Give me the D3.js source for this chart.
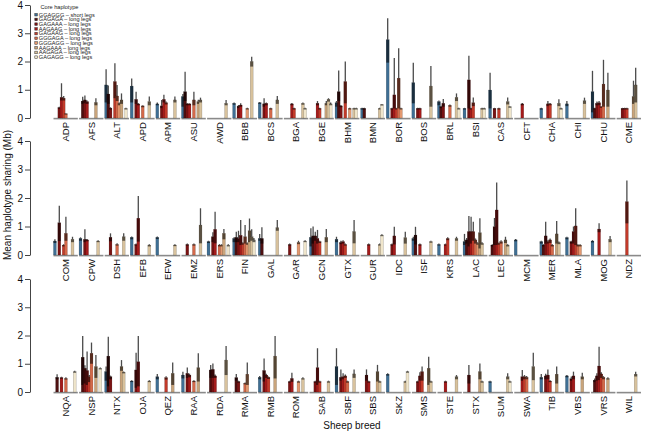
<!DOCTYPE html>
<html><head><meta charset="utf-8">
<script src="https://cdn.jsdelivr.net/npm/d3@7"></script>
<style>body{margin:0;background:#fff}svg{display:block;font-family:"Liberation Sans",Arial,Helvetica,sans-serif}</style>
</head><body><svg id="c" width="663" height="433"></svg>
<script>
const haplotypes = ["GGAGGG","GAGAGA","GAGAAA","AAGAAG","GAGAAG","GGGAGA","GGGAGG","AAGAAA","AAGAGA","GAGAGG"];
const legTypes = ["short legs","long legs","long legs","long legs","long legs","long legs","long legs","long legs","long legs","long legs"];
const colors = ["#3f6f94","#4e1010","#7a1313","#a41b1b","#c23a2a","#d4694a","#e3986f","#c9a47b","#d8c29d","#efe5cb"];
const yTicks = [0,1,2,3,4];

const breeds1 = ["ADP","AFS","ALT","APD","APM","ASU","AWD","BBB","BCS","BGA","BGE","BHM","BMN","BOR","BOS","BRL","BSI","CAS","CFT","CHA","CHI","CHU","CME"];
const breeds2 = ["COM","CPW","DSH","EFB","EFW","EMZ","ERS","FIN","GAL","GAR","GCN","GTX","GUR","IDC","ISF","KRS","LAC","LEC","MCM","MER","MLA","MOG","NDZ"];
const breeds3 = ["NQA","NSP","NTX","OJA","QEZ","RAA","RDA","RMA","RMB","ROM","SAB","SBF","SBS","SKZ","SMS","STE","STX","SUM","SWA","TIB","VBS","VRS","WIL"];

// each bar: [haplotype index, mean, lower edge of dark band, top of error line]
const bars1 = [
 [[2,.37,.33,.40],[3,.73,.62,1.23],[4,.70,.62,.78],[5,.15,.12,.17]],
 [[1,.60,.50,.75],[2,.64,.52,.80],[3,.58,.50,.62],[7,.55,.45,.70]],
 [[0,1.17,.55,1.73],[1,.85,.50,1.15],[2,.35,.30,.38],[4,1.29,.70,1.94],[5,.78,.60,1.17],[6,.52,.45,.55],[7,.64,.50,.87],[9,.34,.30,.36]],
 [[0,1.13,.55,1.40],[2,.66,.50,.93],[3,.50,.45,.52],[5,.43,.38,.45],[8,.58,.45,.76]],
 [[0,.50,.45,.55],[2,.43,.35,.64],[3,.66,.55,.82],[4,.54,.48,.58],[8,.64,.55,.76]],
 [[0,.76,.40,.85],[1,.93,.60,1.64],[2,.50,.45,.52],[3,.50,.45,.52],[5,.64,.45,.93],[7,.58,.50,.65],[8,.64,.55,.72]],
 [[8,.52,.45,.64]],
 [[0,.52,.47,.55],[2,.42,.35,.46],[3,.46,.40,.52],[6,.34,.30,.36],[8,2.00,1.82,2.17]],
 [[0,.54,.50,.57],[2,.50,.40,.70],[3,.52,.45,.55],[5,.34,.30,.36],[8,.64,.50,.78]],
 [[3,.50,.45,.53],[4,.34,.30,.36],[8,.52,.47,.55],[9,.34,.30,.36]],
 [[3,.52,.45,.60],[4,.34,.30,.36],[7,.52,.45,.60],[8,.66,.58,.70],[9,.50,.45,.55]],
 [[0,.54,.40,.60],[1,.93,.60,1.68],[2,.43,.38,.46],[4,1.29,.52,2.00],[6,.34,.30,.36],[8,.34,.30,.36],[9,.34,.30,.36]],
 [[0,.34,.30,.36],[1,.34,.30,.36],[8,.34,.30,.36],[9,.48,.44,.50]],
 [[0,2.77,1.96,3.53],[2,.34,.30,.36],[3,.82,.34,2.12],[4,.34,.30,.36],[5,1.41,.34,2.47],[6,.34,.30,.36]],
 [[0,1.25,.52,1.96],[2,.34,.30,.36],[3,.34,.30,.36],[8,1.13,.40,1.84]],
 [[0,.58,.45,.62],[1,.40,.35,.43],[2,.52,.40,.67],[5,.45,.40,.48],[8,.73,.60,.87],[9,.34,.30,.36]],
 [[0,.34,.30,.36],[2,1.35,.34,2.20],[3,.34,.30,.36],[4,.54,.42,.73],[8,.34,.30,.36],[9,.34,.30,.36]],
 [[0,.99,.34,1.60],[2,.34,.30,.36],[4,.34,.30,.36],[8,.58,.48,.73],[9,.40,.36,.42]],
 [[3,.50,.45,.53]],
 [[0,.34,.30,.36],[3,.50,.42,.60],[4,.50,.45,.53],[8,.52,.42,.66],[9,.34,.30,.36]],
 [[0,.50,.42,.60],[8,.61,.50,.72]],
 [[0,.93,.20,1.67],[1,.34,.30,.36],[2,.52,.45,.58],[3,.54,.45,.60],[4,.40,.36,.42],[5,1.20,.40,2.06],[7,.99,.40,1.60]],
 [[2,.34,.30,.36],[3,.34,.30,.36],[4,.34,.30,.36],[7,.76,.50,1.32],[8,1.17,.55,1.78]]
];
const bars2 = [
 [[0,.49,.42,.55],[2,1.13,.49,1.73],[4,.35,.30,.38],[5,.76,.50,1.34],[8,.55,.45,.64]],
 [[0,.58,.50,.62],[2,.55,.45,.90],[3,.53,.48,.56],[8,.49,.45,.52]],
 [[2,.62,.48,.76],[5,.37,.33,.41],[8,.64,.50,.76]],
 [[0,.62,.55,.65],[2,.37,.33,.40],[3,1.29,.47,2.07],[8,.35,.30,.38]],
 [[0,.62,.56,.65],[8,.35,.31,.38]],
 [[2,.37,.33,.40],[5,.37,.33,.40],[8,1.05,.41,1.64]],
 [[0,.47,.42,.50],[2,.64,.45,.80],[3,.90,.41,1.52],[5,.35,.30,.38],[6,.35,.30,.38],[7,.76,.55,.91],[9,.35,.30,.38]],
 [[0,.58,.45,.62],[1,.62,.45,.82],[2,.58,.45,.85],[3,.69,.35,1.23],[4,.41,.36,.45],[5,.64,.40,1.05],[6,.41,.36,.44],[7,.85,.45,1.28],[8,.64,.50,.90],[9,.53,.45,.60]],
 [[0,.58,.50,.74],[1,.58,.40,.97],[8,.96,.85,1.23]],
 [[2,.37,.33,.40],[6,.44,.38,.50],[9,.49,.45,.52]],
 [[0,.62,.30,.94],[1,.67,.40,1.00],[2,.67,.50,.82],[3,.58,.40,.88],[4,.47,.42,.50],[7,.62,.45,.91]],
 [[0,.55,.45,.64],[2,.44,.38,.50],[3,.47,.40,.52],[4,.37,.33,.40],[8,.82,.41,1.23]],
 [[3,.37,.33,.40],[8,.37,.33,.40],[9,.70,.66,.73]],
 [[2,.37,.33,.40],[3,.67,.37,.99],[8,.61,.40,.82]],
 [[0,.58,.50,.64],[1,.70,.37,.99],[3,.37,.33,.40],[8,.47,.43,.50]],
 [[0,.37,.33,.40],[3,.37,.33,.40],[4,.58,.52,.62],[8,.58,.50,.64]],
 [[0,.47,.35,.74],[1,.53,.40,.60],[2,.82,.30,1.37],[3,.82,.40,1.34],[4,.82,.50,1.17],[5,.53,.40,.58],[6,.41,.36,.45],[7,.78,.23,1.29],[8,.41,.36,.45]],
 [[1,.35,.30,.38],[2,.99,.35,1.30],[3,1.58,.35,2.54],[4,.41,.36,.44],[5,.47,.40,.52],[7,.53,.42,.64],[8,.35,.30,.38]],
 [[0,.53,.48,.56]],
 [[0,.47,.40,.50],[1,.35,.30,.38],[2,.67,.40,1.17],[3,.47,.40,.52],[4,.53,.42,.58],[5,.35,.30,.38],[7,.74,.40,1.19],[8,.44,.38,.47]],
 [[0,.61,.55,.64],[2,.47,.40,.50],[3,.82,.40,1.00],[4,1.02,.35,1.64],[5,.35,.30,.38],[6,.35,.30,.38]],
 [[0,.49,.44,.52],[3,.91,.80,1.11],[8,.55,.45,.67]],
 [[4,1.87,1.11,2.61]]
];
const bars3 = [
 [[1,.52,.45,.63],[3,.51,.47,.54],[5,.48,.44,.52],[9,.72,.68,.75]],
 [[1,1.23,.25,1.98],[2,.84,.30,.95],[3,.76,.25,1.43],[4,.54,.35,.60],[5,1.37,1.00,1.75],[7,.90,.50,1.31],[9,.84,.80,.87]],
 [[0,.72,.40,.90],[1,1.27,.20,1.96],[2,.54,.45,.58],[7,.90,.75,1.13],[8,.70,.66,.73]],
 [[0,.39,.35,.42],[2,.78,.15,1.39],[3,1.07,.20,1.98],[8,.39,.35,.42]],
 [[0,.54,.45,.64],[4,.51,.44,.56],[7,.66,.25,1.04]],
 [[0,.60,.48,.72],[2,.66,.50,.87],[3,.60,.52,.65],[5,.39,.35,.42],[7,.86,.37,1.37]],
 [[1,.78,.50,.96],[2,.80,.50,1.01],[3,.57,.50,.62],[8,1.13,.60,1.63]],
 [[1,.51,.40,.64],[2,.37,.33,.40],[5,.31,.27,.34],[6,.63,.25,1.04]],
 [[0,.52,.45,.57],[2,.76,.37,1.19],[3,.60,.50,.65],[4,.52,.46,.55],[7,1.27,.48,1.98]],
 [[2,.37,.33,.40],[3,.48,.36,.68],[6,.37,.33,.40],[8,.48,.44,.52]],
 [[2,.37,.33,.40],[3,.86,.25,1.55],[4,.37,.33,.40],[8,.37,.33,.40]],
 [[0,.90,.25,1.55],[2,.52,.40,.80],[3,.54,.45,.66],[4,.57,.50,.62],[5,.37,.33,.40],[8,.64,.50,.80]],
 [[2,.60,.40,.80],[3,.37,.33,.40],[7,.72,.37,.96],[8,.37,.33,.40]],
 [[0,.63,.58,.66],[8,.37,.33,.40],[9,.72,.68,.75]],
 [[2,.37,.33,.40],[3,.57,.40,.70],[4,.72,.40,.90],[7,.84,.25,1.25],[8,.37,.33,.40]],
 [[3,.37,.33,.40],[8,.54,.45,.60]],
 [[2,.60,.30,.96],[7,.72,.45,1.01],[8,.37,.33,.40]],
 [[0,.37,.33,.40],[8,.54,.45,.66],[9,.37,.33,.40]],
 [[3,.54,.40,.78],[4,.54,.45,.60],[5,.52,.45,.57],[8,.90,.42,1.39]],
 [[0,.52,.45,.64],[2,.57,.45,.65],[3,.60,.45,.80],[4,.39,.35,.42],[7,.63,.30,.90]],
 [[0,.57,.52,.60],[2,.47,.40,.55],[3,.57,.45,.72],[7,.54,.45,.68]],
 [[1,.42,.35,.48],[2,.57,.40,.66],[3,.92,.42,1.60],[4,.64,.50,.70],[5,.52,.45,.56],[7,.48,.44,.52]],
 [[8,.63,.55,.72]]
];

const svg = d3.select("#c");
const panels = [
  {breeds: breeds1, bars: bars1, top: 5, bottom: 118},
  {breeds: breeds2, bars: bars2, top: 141, bottom: 255},
  {breeds: breeds3, bars: bars3, top: 279, bottom: 392}
];
const x = d3.scaleBand().domain(d3.range(23)).range([53.5, 641]).paddingInner(0.05);
const xi = d3.scaleBand().domain(d3.range(10)).range([0.3, 22.3]);
const bw = 2.9;

panels.forEach(p => {
  const y = d3.scaleLinear().domain([0, 4]).range([p.bottom, p.top]);
  const g = svg.append("g");
  const ax = g.append("g").attr("transform", "translate(30,0)")
    .call(d3.axisLeft(y).tickValues(yTicks).tickSize(5).tickSizeOuter(0).tickPadding(2).tickFormat(d3.format("d")));
  ax.select(".domain").attr("stroke", "#444");
  ax.selectAll(".tick line").attr("stroke", "#444");
  ax.selectAll(".tick text").attr("font-size", 10).attr("fill", "#111").attr("font-family", "Liberation Sans, Arial, sans-serif");

  p.breeds.forEach((b, i) => {
    const gx = x(i);
    g.append("line").attr("x1", gx).attr("x2", gx + x.bandwidth())
      .attr("y1", y(0) + 0.6).attr("y2", y(0) + 0.6)
      .attr("stroke", "#8a8a8a").attr("stroke-width", 1.6);
    const cx = gx + x.bandwidth() / 2;
    g.append("text").attr("x", cx + 3.4).attr("y", y(0) + 4)
      .attr("transform", `rotate(-90,${cx + 3.4},${y(0) + 4})`)
      .attr("text-anchor", "end").attr("font-size", 9.5).attr("fill", "#111").text(b);
    p.bars[i].forEach(d => {
      const [s, v, lo, hi] = d;
      const bx = gx + xi(s) - 0.35;
      g.append("rect").attr("x", bx).attr("width", bw)
        .attr("y", y(v)).attr("height", y(0) - y(v))
        .attr("fill", colors[s]).attr("stroke", "rgba(0,0,0,0.35)").attr("stroke-width", 0.4);
      g.append("rect").attr("x", bx).attr("width", bw)
        .attr("y", y(v)).attr("height", Math.max(0.8, y(lo) - y(v)))
        .attr("fill", "rgba(0,0,0,0.58)");
      if (hi > v) {
        g.append("line").attr("x1", bx + bw / 2).attr("x2", bx + bw / 2)
          .attr("y1", y(v)).attr("y2", y(hi))
          .attr("stroke", "rgba(15,15,15,0.75)").attr("stroke-width", 1.3);
      }
    });
  });
});

// axis titles
svg.append("text").attr("transform", "translate(11,195) rotate(-90)")
  .attr("text-anchor", "middle").attr("font-size", 10).attr("fill", "#111")
  .text("Mean haplotype sharing (Mb)");
svg.append("text").attr("x", 352).attr("y", 429)
  .attr("text-anchor", "middle").attr("font-size", 10).attr("fill", "#111")
  .text("Sheep breed");

// legend
const lg = svg.append("g");
lg.append("text").attr("x", 40.5).attr("y", 9.2).attr("font-size", 5.6).attr("fill", "#222").text("Core haplotype");
haplotypes.forEach((h, i) => {
  const cy = 14.7 + i * 4.72;
  lg.append("rect").attr("x", 34.8).attr("y", cy - 1.3).attr("width", 2.6).attr("height", 2.6)
    .attr("fill", colors[i]).attr("stroke", "#333").attr("stroke-width", 0.5);
  lg.append("text").attr("x", 38.8).attr("y", cy + 1.9).attr("font-size", 5.6).attr("fill", "#222")
    .text(h + " \u2013 " + legTypes[i]);
});
</script></body></html>
